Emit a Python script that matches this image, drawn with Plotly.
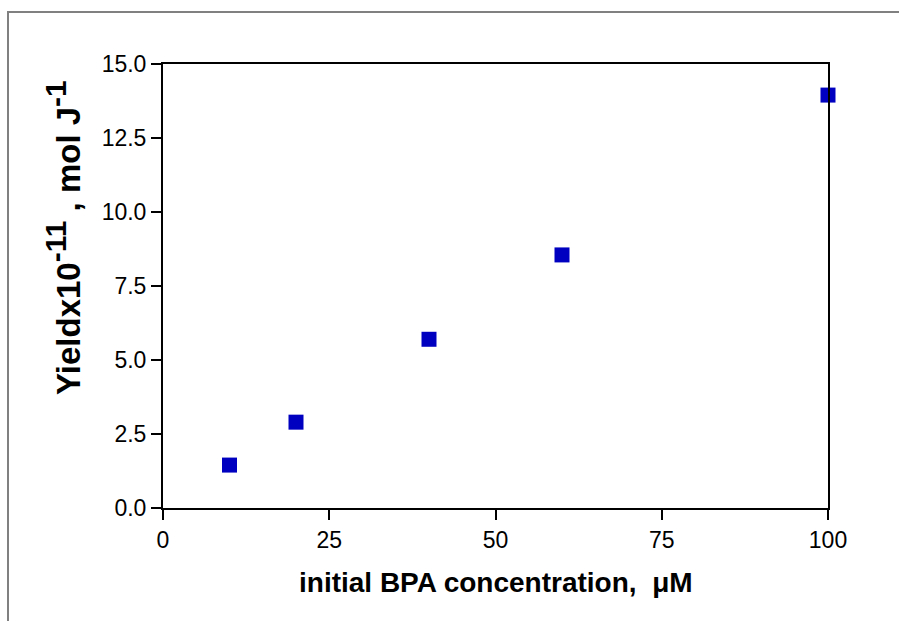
import plotly.graph_objects as go

# BPA initial concentration (µM) and yield (x10^-11 mol/J)
concentration = [10, 20, 40, 60, 100]
yield_values = [1.45, 2.9, 5.7, 8.55, 13.95]

x_ticks = [0, 25, 50, 75, 100]
y_ticks = [0.0, 2.5, 5.0, 7.5, 10.0, 12.5, 15.0]

W, H = 899, 621
L, R, T, B = 163, 828, 64, 508

fig = go.Figure()
fig.add_trace(go.Scatter(
    x=concentration, y=yield_values, mode="markers",
    marker=dict(symbol="square", size=15, color="#0000C0",
                line=dict(width=0)),
    cliponaxis=False, showlegend=False,
))

font = "Liberation Sans, Arial, sans-serif"
axis_common = dict(
    showgrid=False, zeroline=False, showline=True, linecolor="black",
    linewidth=2, mirror=True, ticks="outside", ticklen=10, tickwidth=2,
    tickcolor="black", tickfont=dict(family=font, size=23, color="black"),
)

sup = '<sup><span style="font-size:30px">{}</span></sup>'
y_title = "<b>Yieldx10" + sup.format("-11") + " , mol J" + sup.format("-1") + "</b>"

fig.update_layout(
    width=W, height=H,
    margin=dict(l=L, r=W - R, t=T, b=H - B),
    paper_bgcolor="white", plot_bgcolor="white",
    xaxis=dict(range=[0, 100], tickvals=x_ticks,
               ticktext=[str(v) for v in x_ticks], **axis_common),
    yaxis=dict(range=[0, 15], tickvals=y_ticks,
               ticktext=[f"{v:.1f}" for v in y_ticks], **axis_common),
    shapes=[dict(type="rect", xref="paper", yref="paper",
                 x0=(8 - L) / (R - L), x1=(W + 20 - L) / (R - L),
                 y0=-(H + 20 - B) / (B - T), y1=(B - 12) / (B - T),
                 line=dict(color="#808080", width=2), layer="below")],
    annotations=[
        dict(text="<b>initial BPA concentration,  \u03bcM</b>",
             xref="paper", yref="paper", x=0.5,
             y=-(582 - B) / (B - T), yanchor="middle", xanchor="center",
             showarrow=False, font=dict(family=font, size=28, color="black")),
        dict(text=y_title,
             xref="paper", yref="paper", x=-(L - 63) / (R - L),
             y=(B - 238) / (B - T), xanchor="center", yanchor="middle",
             textangle=-90, showarrow=False,
             font=dict(family=font, size=33, color="black")),
    ],
)

fig.write_html("out.html")
